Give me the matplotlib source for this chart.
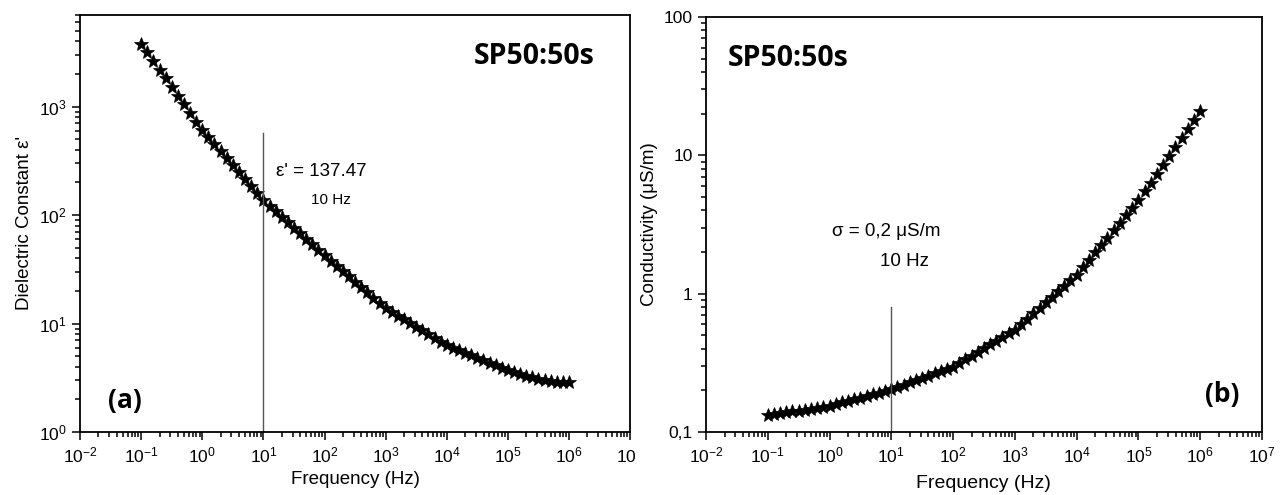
import numpy as np
import matplotlib
matplotlib.use("Agg")
import matplotlib.pyplot as plt
from matplotlib.ticker import LogLocator, FixedLocator, FixedFormatter, NullFormatter
from matplotlib.transforms import Bbox, TransformedBbox

plt.rcParams['font.family'] = ['Liberation Sans', 'DejaVu Sans']
plt.rcParams['mathtext.fontset'] = 'custom'
plt.rcParams['mathtext.rm'] = 'Liberation Sans'
plt.rcParams['mathtext.it'] = 'Liberation Sans:italic'
plt.rcParams['mathtext.bf'] = 'Liberation Sans:bold'
plt.rcParams['axes.unicode_minus'] = False

# frequency sweep (Hz), 10 points per decade
freq = [0.1, 0.126, 0.158, 0.2, 0.251, 0.316, 0.398, 0.501, 0.631, 0.794,
        1, 1.26, 1.58, 2, 2.51, 3.16, 3.98, 5.01, 6.31, 7.94,
        10, 12.6, 15.8, 20, 25.1, 31.6, 39.8, 50.1, 63.1, 79.4,
        100, 126, 158, 200, 251, 316, 398, 501, 631, 794,
        1e3, 1.26e3, 1.58e3, 2e3, 2.51e3, 3.16e3, 3.98e3, 5.01e3, 6.31e3, 7.94e3,
        1e4, 1.26e4, 1.58e4, 2e4, 2.51e4, 3.16e4, 3.98e4, 5.01e4, 6.31e4, 7.94e4,
        1e5, 1.26e5, 1.58e5, 2e5, 2.51e5, 3.16e5, 3.98e5, 5.01e5, 6.31e5, 7.94e5,
        1e6]

# dielectric constant eps'
eps = [3802, 3162, 2630, 2188, 1820, 1514, 1259, 1047, 871, 724,
       603, 520, 448, 386, 333, 288, 248, 214, 185, 159,
       137.47, 122, 109, 96.8, 86.1, 76.6, 68.1, 60.6, 53.9, 48.0,
       42.7, 38.1, 34.0, 30.4, 27.2, 24.3, 21.7, 19.4, 17.3, 15.5,
       13.8, 12.8, 11.8, 10.9, 10.1, 9.33, 8.63, 7.98, 7.38, 6.82,
       6.31, 5.98, 5.68, 5.38, 5.11, 4.84, 4.59, 4.36, 4.13, 3.92,
       3.72, 3.55, 3.40, 3.28, 3.18, 3.09, 3.02, 2.96, 2.92, 2.90,
       2.88]

# conductivity (uS/m)
sigma = [0.1321, 0.1343, 0.1365, 0.1387, 0.1409, 0.1429, 0.1452, 0.1476, 0.1500, 0.1524,
         0.1549, 0.1592, 0.1637, 0.1679, 0.1726, 0.1774, 0.1824, 0.1875, 0.1923, 0.1977,
         0.2032, 0.211, 0.219, 0.228, 0.237, 0.246, 0.255, 0.265, 0.275, 0.286,
         0.297, 0.316, 0.336, 0.357, 0.380, 0.404, 0.430, 0.457, 0.486, 0.516,
         0.550, 0.602, 0.659, 0.722, 0.791, 0.867, 0.950, 1.04, 1.14, 1.25,
         1.37, 1.55, 1.75, 1.99, 2.25, 2.54, 2.88, 3.26, 3.69, 4.18,
         4.73, 5.48, 6.36, 7.38, 8.55, 9.93, 11.5, 13.3, 15.5, 17.9,
         20.8]

decades = [1e-2, 1e-1, 1e0, 1e1, 1e2, 1e3, 1e4, 1e5, 1e6, 1e7]
cond_ticks = [0.1, 1, 10, 100]
cond_labels = ['0,1', '1', '10', '100']


def style_axes(ax):
    ax.set_xscale('log')
    ax.set_yscale('log')
    ax.set_xlim(1e-2, 1e7)
    ax.xaxis.set_major_locator(FixedLocator(decades))
    ax.xaxis.set_minor_locator(LogLocator(base=10, subs=np.arange(2, 10), numticks=30))
    ax.xaxis.set_minor_formatter(NullFormatter())
    ax.tick_params(which='both', direction='out', top=False, right=False,
                   width=1.1, labelsize=12.5)
    ax.tick_params(which='major', length=6)
    ax.tick_params(which='minor', length=3.5)
    for s in ax.spines.values():
        s.set_linewidth(1.3)


fig = plt.figure(figsize=(12.81, 4.95), dpi=100)
H = 495  # figure height in pixels, for placing notes by pixel

# (a) dielectric constant
ax1 = fig.add_axes([0.0625, 0.1273, 0.4294, 0.8424])
style_axes(ax1)
ax1.set_ylim(1, 7000)
ax1.yaxis.set_major_locator(LogLocator(base=10, numticks=10))
ax1.yaxis.set_minor_locator(LogLocator(base=10, subs=np.arange(2, 10), numticks=30))
ax1.yaxis.set_minor_formatter(NullFormatter())
ax1.plot(freq, eps, ls='none', marker='*', ms=10.5, color='black', mec='black', mew=0.5)
ax1.plot([10, 10], [1, 570], color='#555555', lw=1)
ax1.text(276, H - 172, "ε' = 137.47", transform=None, fontsize=13.5, va='center')
ax1.text(311, H - 200, "10 Hz", transform=None, fontsize=11, va='center')
ax1.text(0.935, 0.9, 'SP50:50s', transform=ax1.transAxes, family='Open Sans',
         fontweight='bold', fontsize=20.5, ha='right', va='center')
ax1.text(0.05, 0.076, '(a)', transform=ax1.transAxes, family='Open Sans',
         fontweight='bold', fontsize=19, ha='left', va='center')
ax1.set_xlabel('Frequency (Hz)', fontsize=13.5, labelpad=4)
ax1.set_ylabel("Dielectric Constant ε'", fontsize=13.5, labelpad=4)

# the source picture is cut just after the "10" of the last tick label of panel (a)
fig.canvas.draw()
clip = TransformedBbox(Bbox([[0, 0], [0.4965, 1]]), fig.transFigure)
for lab in ax1.get_xticklabels():
    lab.set_clip_box(clip)
    lab.set_clip_on(True)

# (b) conductivity
ax2 = fig.add_axes([0.5511, 0.1273, 0.434, 0.8384])
style_axes(ax2)
ax2.set_ylim(0.1, 100)
ax2.yaxis.set_major_locator(FixedLocator(cond_ticks))
ax2.yaxis.set_major_formatter(FixedFormatter(cond_labels))
ax2.yaxis.set_minor_locator(LogLocator(base=10, subs=np.arange(2, 10), numticks=30))
ax2.yaxis.set_minor_formatter(NullFormatter())
ax2.plot(freq, sigma, ls='none', marker='*', ms=10.5, color='black', mec='black', mew=0.5)
ax2.plot([10, 10], [0.1, 0.8], color='#555555', lw=1)
ax2.text(886, H - 231, "σ = 0,2 μS/m", transform=None, fontsize=13.5,
         ha='center', va='center')
ax2.text(904, H - 261, "10 Hz", transform=None, fontsize=13.5,
         ha='center', va='center')
ax2.text(0.04, 0.9, 'SP50:50s', transform=ax2.transAxes, family='Open Sans',
         fontweight='bold', fontsize=20.5, ha='left', va='center')
ax2.text(0.96, 0.09, '(b)', transform=ax2.transAxes, family='Open Sans',
         fontweight='bold', fontsize=19, ha='right', va='center')
ax2.set_xlabel('Frequency (Hz)', fontsize=14, labelpad=7)
ax2.set_ylabel('Conductivity (μS/m)', fontsize=13.5, labelpad=4)

fig.savefig('out.png', dpi=100)
